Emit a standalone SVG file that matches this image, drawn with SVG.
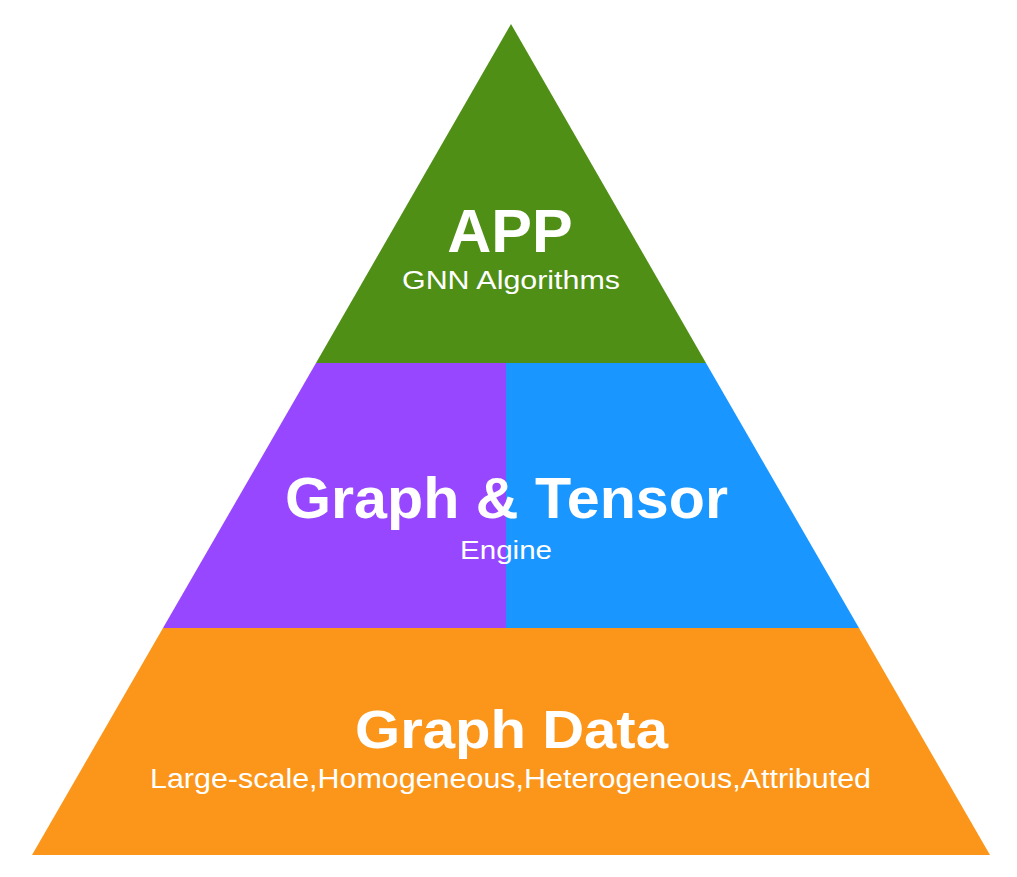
<svg xmlns="http://www.w3.org/2000/svg" width="1017" height="877" viewBox="0 0 1017 877">
<style>
.t{font-family:"Liberation Sans",Arial,sans-serif;fill:#fff;text-anchor:middle}
.b{font-weight:bold}
</style>
<rect width="1017" height="877" fill="#fff"/>
<g id="app">
<polygon points="511,24 316,363 706,363" fill="#4F8F15"/>
<text class="t b" x="510" y="252" font-size="61">APP</text>
<text class="t" x="511" y="289" font-size="26" textLength="218" lengthAdjust="spacingAndGlyphs">GNN Algorithms</text>
</g>
<g id="engine">
<polygon points="316,363 506,363 506,628 163,628" fill="#9747FF"/>
<polygon points="506,363 706,363 859,628 506,628" fill="#1996FF"/>
<text class="t b" x="506.5" y="518" font-size="57" textLength="443" lengthAdjust="spacingAndGlyphs">Graph &amp; Tensor</text>
<text class="t" x="506" y="559" font-size="26" textLength="92" lengthAdjust="spacingAndGlyphs">Engine</text>
</g>
<g id="data">
<polygon points="163,628 859,628 990,855 32,855" fill="#FB961A"/>
<text class="t b" x="511.5" y="748" font-size="53" textLength="313" lengthAdjust="spacingAndGlyphs">Graph Data</text>
<text class="t" x="510.5" y="788" font-size="27" textLength="721" lengthAdjust="spacingAndGlyphs">Large-scale,Homogeneous,Heterogeneous,Attributed</text>
</g>
<g id="connectors"/>
</svg>
